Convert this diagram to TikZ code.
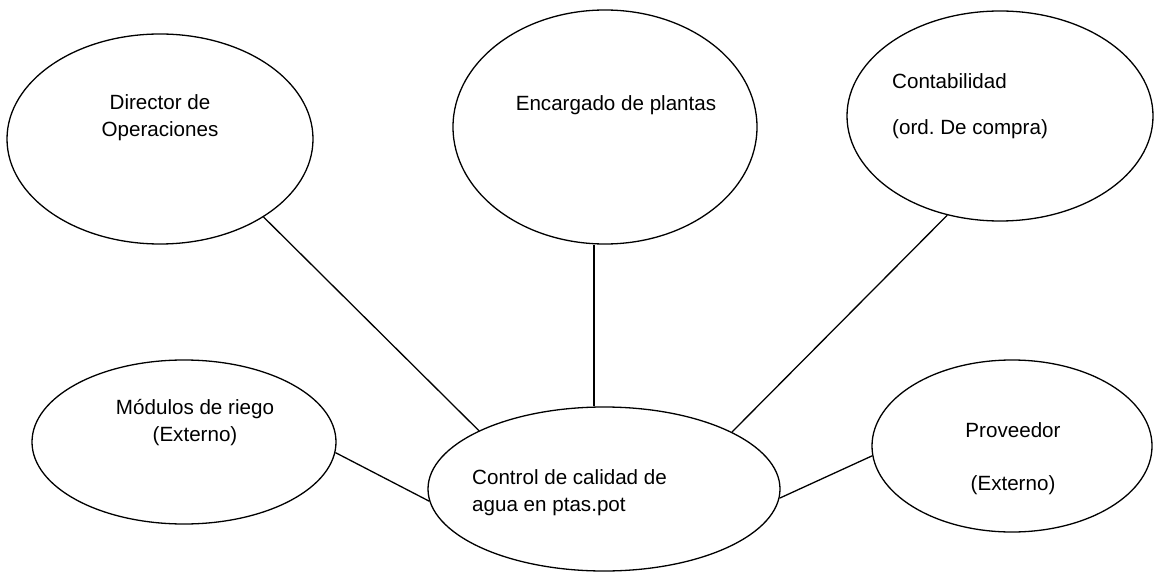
\documentclass[tikz,border=0pt]{standalone}
\usepackage{fontspec}
\setmainfont{Liberation Sans}
\usetikzlibrary{shapes.geometric}
\frenchspacing
\tikzset{
  bubble/.style={draw=black, line width=1.3pt, ellipse, inner sep=0pt, fill=white},
  txt/.style={inner sep=0pt, font=\fontsize{20.6}{27}\selectfont, text=black},
  link/.style={draw=black, line width=1.3pt}
}
\begin{document}
\begin{tikzpicture}[x=1pt,y=-1pt]
\useasboundingbox (0,0) rectangle (1156,572);
% ellipses
\node[bubble, minimum width=306pt, minimum height=210pt] (A) at (160,139) {};
\node[bubble, minimum width=304pt, minimum height=234pt] (B) at (605,127) {};
\node[bubble, minimum width=306pt, minimum height=210pt] (C) at (1000,116) {};
\node[bubble, minimum width=304pt, minimum height=164pt] (D) at (184,442) {};
\node[bubble, minimum width=352pt, minimum height=164pt] (E) at (604,489) {};
\node[bubble, minimum width=280pt, minimum height=172pt] (F) at (1012,446) {};
% texts
\node[txt, anchor=base] (a1) at (160,110) {Director de};
\node[txt, anchor=base] (a2) at (160,137) {Operaciones};
\node[txt, anchor=base] (b1) at (616,111) {Encargado de plantas};
\node[txt, anchor=base west] (c1) at (892,89) {Contabilidad};
\node[txt, anchor=base west] (c2) at (892,135) {(ord.\ De compra)};
\node[txt, anchor=base] (d1) at (195,414) {Módulos de riego};
\node[txt, anchor=base] (d2) at (195,441) {(Externo)};
\node[txt, anchor=base west] (e1) at (472,484) {Control de calidad de};
\node[txt, anchor=base west] (e2) at (472,511) {agua en ptas.pot};
\node[txt, anchor=base] (f1) at (1013,437) {Proveedor};
\node[txt, anchor=base] (f2) at (1013,490) {(Externo)};
% connectors
\draw[link] (A.-37.6) -- (E.155.8);
\draw[link] (B.south -| E.97.6) -- (E.97.6);
\draw[link] (C.-118.5) -- (E.24);
\draw[link] (D.-4.5) -- (E.-176.4);
\draw[link] (E.-3.6) -- (F.-176.3);
\end{tikzpicture}
\end{document}
